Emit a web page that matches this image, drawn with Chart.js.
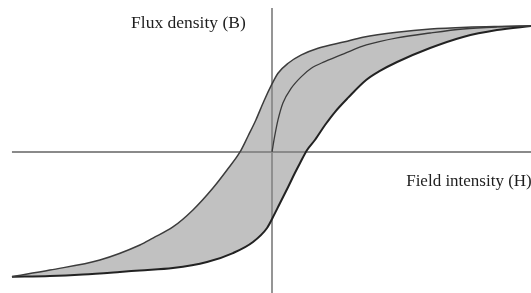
<!DOCTYPE html>
<html>
<head>
<meta charset="utf-8">
<script src="https://cdn.jsdelivr.net/npm/chart.js@4.4.1/dist/chart.umd.min.js"></script>
<style>
  html, body { margin: 0; padding: 0; background: #fff; }
  #loop { display: block; }
</style>
</head>
<body>
<canvas id="loop" width="531" height="293"></canvas>
<script>
// descending branch (upper), H -> B
var upperH = [-100, -85.4, -66.2, -50.8, -45.8, -38.1, -30.4, -22.7, -17.3, -12.3, -9.2, -6.2, -3.1, 0, 2.3, 6.2, 11.3, 17.7, 28, 35, 48, 61, 75, 87, 100];
var upperB = [-99, -93.7, -85.7, -73.8, -68.3, -59.5, -46, -28.6, -14.3, 0, 12.7, 25.4, 40.5, 54, 62.5, 70.4, 77, 82.3, 87.5, 91, 95, 97.6, 99, 99.6, 100];

// ascending branch (lower)
var lowerH = [-100, -85.4, -72.7, -58.5, -50.8, -38.1, -25, -15, -7.3, -1.9, 0.4, 3.1, 6.2, 8.8, 10.8, 13.5, 16.5, 20.4, 24.2, 29.2, 36.2, 41.5, 48.1, 60.8, 73.5, 86.5, 100];
var lowerB = [-99, -98.4, -97.2, -95.2, -94, -92.1, -87.3, -80.2, -71.4, -60.3, -51.6, -40.5, -27.8, -16.7, -8.7, 1.6, 9.5, 21.4, 31.7, 42.9, 57.1, 64.3, 71.4, 82.5, 91.3, 96.8, 100];

// initial magnetisation curve
var initH = [0, 1, 2.3, 4.2, 7.4, 11.3, 15.1, 20.3, 28, 36.3, 48.1, 60.8, 73.5, 86.5, 100];
var initB = [0, 12.1, 25.4, 38.9, 50.6, 59.8, 66.4, 71.7, 78.3, 84.9, 90.5, 94.4, 97.6, 99.2, 100];

// axis lines
var hAxisH = [-100, 100];
var hAxisB = [0, 0];
var bAxisH = [0, 0];
var bAxisB = [114.3, -112];

var axisTitles = ['Flux density (B)', 'Field intensity (H)'];

function pts(xs, ys) {
    return xs.map(function(x, i) { return { x: x, y: ys[i] }; });
}

// text labels drawn on top
var labelPlugin = {
    id: 'labels',
    afterDraw: function(chart) {
        var ctx = chart.ctx;
        var xs = chart.scales.x, ys = chart.scales.y;
        ctx.save();
        ctx.fillStyle = '#1e1e1e';
        ctx.textBaseline = 'alphabetic';
        ctx.textAlign = 'left';
        ctx.font = "17.5px 'Liberation Serif', 'Times New Roman', serif";
        ctx.fillText(axisTitles[0], xs.getPixelForValue(-54.2), ys.getPixelForValue(98.4));
        ctx.font = "17px 'Liberation Serif', 'Times New Roman', serif";
        ctx.fillText(axisTitles[1], xs.getPixelForValue(51.6), ys.getPixelForValue(-26.6));
        ctx.restore();
    }
};

var ctx = document.getElementById('loop').getContext('2d');
new Chart(ctx, {
    type: 'scatter',
    data: {
        datasets: [
            {
                label: 'upper',
                data: pts(upperH, upperB),
                showLine: true,
                fill: '+1',
                backgroundColor: 'rgb(193, 193, 193)',
                borderColor: '#3c3c3c',
                borderWidth: 1.5,
                cubicInterpolationMode: 'monotone',
                pointRadius: 0,
                order: 1
            },
            {
                label: 'lower',
                data: pts(lowerH, lowerB),
                showLine: true,
                fill: false,
                borderColor: '#222',
                borderWidth: 2,
                cubicInterpolationMode: 'monotone',
                pointRadius: 0,
                order: 1
            },
            {
                label: 'initial',
                data: pts(initH, initB),
                showLine: true,
                fill: false,
                borderColor: '#3a3a3a',
                borderWidth: 1.3,
                cubicInterpolationMode: 'monotone',
                pointRadius: 0,
                order: 1
            },
            {
                label: 'H axis',
                data: pts(hAxisH, hAxisB),
                showLine: true,
                fill: false,
                borderColor: '#8a8a8a',
                borderWidth: 1.8,
                pointRadius: 0,
                order: 5
            },
            {
                label: 'B axis',
                data: pts(bAxisH, bAxisB),
                showLine: true,
                fill: false,
                borderColor: '#8a8a8a',
                borderWidth: 1.8,
                pointRadius: 0,
                order: 5
            }
        ]
    },
    options: {
        responsive: false,
        animation: false,
        devicePixelRatio: 1,
        layout: { padding: 0 },
        scales: {
            x: { type: 'linear', min: -104.6, max: 99.6, display: false },
            y: { type: 'linear', min: -111.9, max: 120.6, display: false }
        },
        plugins: {
            legend: { display: false },
            tooltip: { enabled: false },
            filler: { drawTime: 'beforeDatasetsDraw' }
        }
    },
    plugins: [labelPlugin]
});
</script>
</body>
</html>
